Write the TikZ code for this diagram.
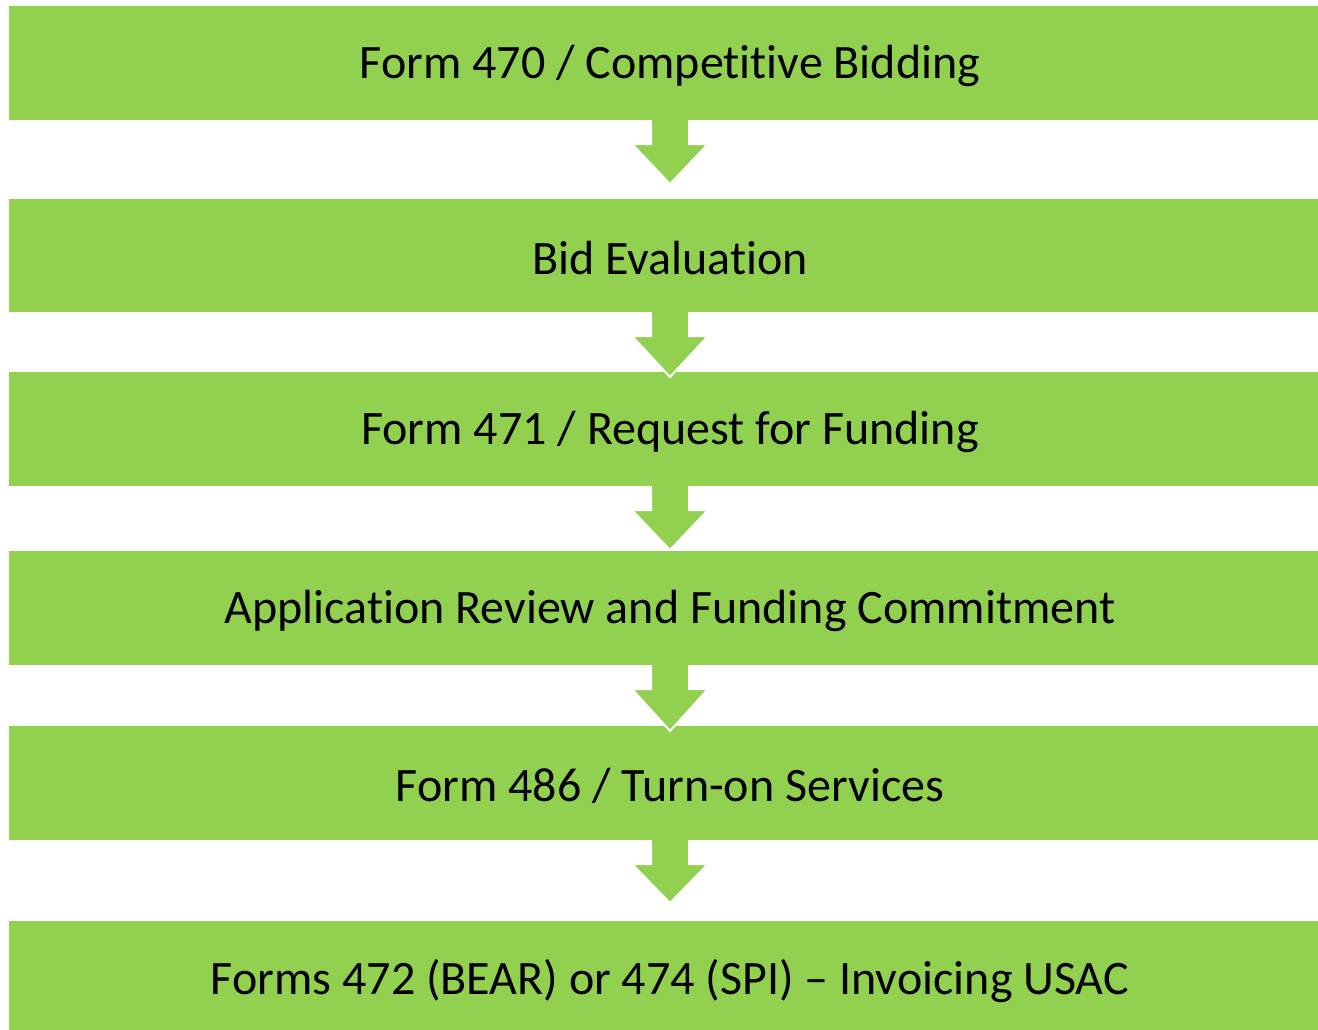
\documentclass[tikz,border=0pt]{standalone}
\usepackage{fontspec}
\setmainfont[Ligatures=NoCommon]{Carlito}
\definecolor{stepgreen}{HTML}{92D050}
\begin{document}
\begin{tikzpicture}[x=1pt,y=-1pt,
  stepbox/.style={fill=stepgreen,draw=none},
  steptext/.style={font=\fontsize{48}{56}\selectfont,text=black,anchor=center,inner sep=0},
  downarrow/.style={fill=stepgreen,draw=white,line width=2pt,line join=miter}]
\useasboundingbox (0,0) rectangle (1318,1029);
\clip (0,0) rectangle (1318,1029);
% boxes
\fill[stepbox] (9,6) rectangle (1331,120);
\fill[stepbox] (9,199) rectangle (1331,312);
\fill[stepbox] (9,372) rectangle (1331,486);
\fill[stepbox] (9,551) rectangle (1331,665);
\fill[stepbox] (9,726) rectangle (1331,840);
\fill[stepbox] (9,921) rectangle (1331,1035);
% arrows
\newcommand{\myarrow}[2]{%
  \draw[downarrow] (651,#1) -- (651,#1+24) -- (632,#1+24) -- (670,#2) -- (708,#1+24) -- (689,#1+24) -- (689,#1);
  \fill[stepgreen] (652,#1-2) rectangle (688,#1+4);}
\myarrow{120}{184}
\myarrow{312}{377}
\myarrow{486}{550}
\myarrow{665}{731}
\myarrow{840}{903}
% texts
\node[steptext] (t1) at (670,66) {Form 470 / Competitive Bidding};
\node[steptext] (t2) at (670,258) {Bid Evaluation};
\node[steptext] (t3) at (670,432) {Form 471 / Request for Funding};
\node[steptext] (t4) at (670,611) {Application Review and Funding Commitment};
\node[steptext] (t5) at (670,786) {Form 486 / Turn-on Services};
\node[steptext] (t6) at (670,981) {Forms 472 (BEAR) or 474 (SPI) – Invoicing USAC};
\end{tikzpicture}
\end{document}
